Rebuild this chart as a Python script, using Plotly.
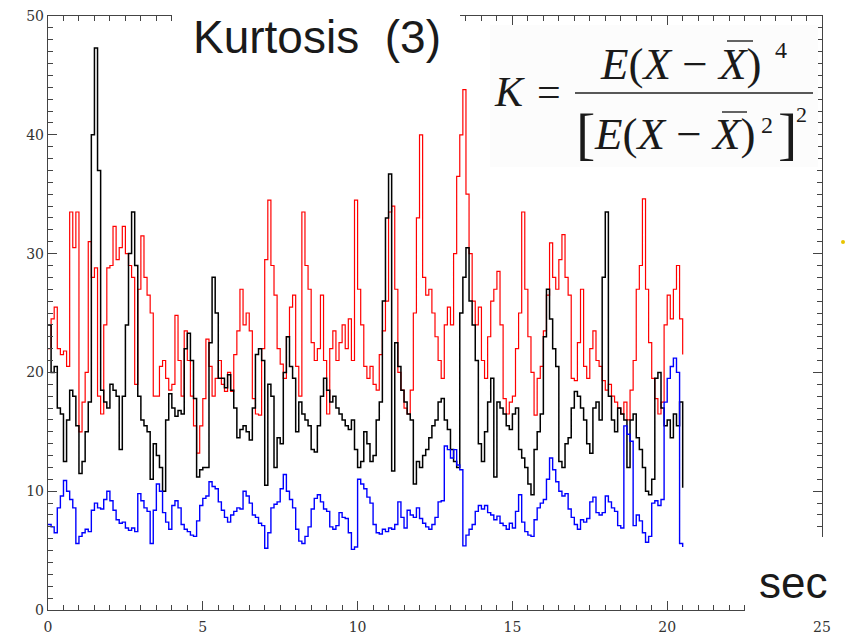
import numpy as np
import plotly.graph_objects as go

# Sampling interval of the three kurtosis traces (seconds)
STEP = 0.1

red = [
    22, 24.5, 25.5, 22, 21.5, 21.8, 20.5, 33.5, 30.5, 33.5,
    15, 17.5, 20, 31, 28, 28.8, 18, 16.5, 24, 28.8,
    29, 32.3, 29.5, 30.5, 32.3, 30, 29, 28, 19, 27,
    31.5, 28, 26.5, 25, 18, 18, 20.5, 21, 19.5, 18.5,
    19, 24.8, 21, 18, 23.5, 21, 18, 15.5, 13.2, 15.5,
    17.8, 22.8, 20.5, 18, 19.5, 21, 19, 18.4, 20, 18.4,
    21.5, 23.5, 27, 24, 25, 23.5, 17.8, 16.5, 16.4, 22,
    29.5, 34.5, 29, 26.5, 22, 20.7, 19.5, 23, 25.5, 26.5,
    20.5, 18, 33.5, 29, 27, 22.5, 21, 22, 26.5, 21,
    16.5, 22, 23.5, 21, 22.5, 24, 22, 24.5, 21, 34.5,
    27, 24, 20.5, 19.5, 20.5, 19, 18.5, 21.5, 23.5, 26,
    33.5, 34, 27, 20, 18.5, 17, 16.5, 18.5, 25, 33,
    40, 28, 26.5, 27, 25, 23, 21, 19.5, 24, 25.5,
    24, 30, 36.5, 40, 43.8, 35, 30, 26, 24, 25.5,
    21, 19.5, 23, 26, 27, 28.5, 24, 17.8, 16.5, 17.5,
    18, 22, 25, 33.5, 27, 23, 20, 16.4, 19.5, 20.5,
    23.5, 26.5, 30.9, 28, 27, 29.5, 31.6, 28, 26.5, 19.5,
    19.3, 22.5, 27, 20.5, 19.5, 22, 23.5, 21, 20.5, 19.3,
    18.5, 19, 18, 17.5, 17, 16.5, 17.5, 16, 18.5, 21,
    27, 29, 34.6, 27, 22.5, 19.5, 17.8, 16.5, 17.5, 24,
    26.5, 24.5, 27, 29, 24.5, 21.5,
]

black = [
    24, 20, 20.5, 17, 16.5, 12.5, 16, 18.5, 18, 15.5,
    11.5, 12.5, 15, 17.5, 40, 47.3, 37, 18.5, 17.5, 17,
    19, 18.5, 18, 13.5, 18, 24, 30, 33.5, 29, 18,
    16, 15.5, 15, 11, 14, 13, 12, 10, 16, 18.2,
    17, 16.3, 16.8, 16.5, 22, 23.3, 21, 17.8, 11.2, 11.8,
    12, 12, 22.5, 28, 25, 19.5, 19.5, 18.7, 19.8, 18.5,
    17, 14.5, 15.2, 15.5, 15, 14.3, 17, 21.5, 22, 21,
    10.5, 19, 18, 12, 14.5, 14, 20, 23, 20.5, 19.5,
    15, 17.5, 16.5, 16, 15.5, 13.5, 13.3, 15.5, 18, 19.5,
    18.5, 17.5, 18, 17, 16.5, 16, 15.5, 15.2, 16, 13.5,
    12, 12.5, 15, 14, 12.5, 13, 16, 17.5, 26, 33,
    36.7, 11.7, 22.5, 20.5, 18.5, 17.5, 16.5, 16, 10.6, 12.5,
    12, 13, 13.5, 14.5, 15.5, 16, 17.5, 17.8, 16, 15.2,
    13.5, 12.5, 12, 25, 28, 30.5, 26, 24, 21, 14,
    12.5, 15, 17.5, 19.5, 11.2, 17.5, 17, 16.5, 15.5, 15.2,
    16.5, 17, 13.5, 12.8, 12, 10.6, 9.7, 13.5, 15, 16.5,
    23, 27, 24.5, 22, 20.5, 12.5, 12, 14, 14.5, 17,
    18.4, 18, 17, 16, 14, 13.2, 17, 17.5, 16, 28,
    33.5, 18, 16, 15, 17, 16.5, 16, 12, 16, 16.5,
    14.5, 13.5, 12, 10, 9.7, 11, 19.5, 20, 17, 15.5,
    16, 14.5, 16.5, 15.5, 17.5, 10.3,
]

blue = [
    7.2, 7.0, 6.5, 8.6, 9.6, 10.9, 10, 9.3, 8.6, 5.6,
    6.2, 6.5, 6.8, 6.6, 8.4, 9, 8.6, 8.5, 9.3, 10,
    9.2, 8.4, 7.6, 7.3, 7.4, 6.9, 6.7, 6.9, 6.6, 9.8,
    9.2, 8.6, 8.3, 5.6, 8.4, 10.6, 10, 8.2, 7.4, 6.8,
    8.8, 9.2, 8.6, 7.2, 6.8, 6.6, 6.3, 6.2, 7.5, 8.8,
    9.4, 9.6, 10.8, 10.4, 10.2, 9.1, 8.4, 7.8, 7.4, 8,
    8.3, 8.6, 8.5, 10, 9.6, 9, 8, 7.8, 7.3, 7.1,
    5.2, 6.5, 8.6, 8.9, 9.1, 10.2, 11.4, 10, 9.3, 8.6,
    6.8, 5.8, 5.6, 6.2, 7, 8.5, 9.4, 9.7, 9.1, 8.5,
    8.3, 7, 6.8, 7.1, 8.2, 7.8, 7.7, 6.5, 5.1, 5.3,
    11, 10.6, 10.2, 9.5, 9, 7.2, 6.5, 6.4, 6.8, 6.6,
    6.9, 6.8, 7.2, 9.1, 7.8, 6.9, 8.4, 8, 7.8, 8.6,
    7.7, 7.3, 7, 6.8, 7.2, 7.8, 9.1, 9.2, 13.8, 13.5,
    12.8, 13.5, 12.2, 11.8, 5.4, 6.3, 6.8, 7.2, 8.3, 8.8,
    8.5, 8.8, 8.2, 8, 7.6, 7.9, 7.3, 7.1, 6.8, 7.3,
    6.9, 8.3, 9.7, 7.4, 6.6, 6.3, 6.2, 7.6, 8.6, 9,
    9.3, 11, 12.8, 11.8, 10.8, 10, 9.6, 9.8, 8.5, 7.8,
    7.2, 6.8, 7.6, 7.4, 7.7, 9.1, 9.5, 8.2, 8, 8.2,
    9.6, 9.1, 8.6, 8.3, 7.1, 6.9, 15.5, 14.8, 14.2, 7.1,
    8, 7.5, 6.5, 5.7, 6.2, 9, 9.2, 8.8, 9.3, 17.5,
    19.5, 20.5, 21.2, 20, 5.6, 5.3,
]

time = np.round(np.arange(len(red)) * STEP, 2)

X_RANGE = [0, 25]
Y_RANGE = [0, 50]

# Page geometry (pixels) and conversion helpers to paper coordinates
W, H = 846, 642
ML, MR, MT, MB = 48, 24, 16, 32
PW, PH = W - ML - MR, H - MT - MB


def px(x):
    return (x - ML) / PW


def py(y):
    return (H - MB - y) / PH


AXIS_COLOR = "#444444"
TICK_FONT = dict(family="DejaVu Serif", size=14, color="#333333")

fig = go.Figure()
for series, color, width in ((red, "#ff0000", 1.2),
                             (black, "#000000", 1.5),
                             (blue, "#0000ff", 1.4)):
    fig.add_trace(go.Scatter(
        x=time, y=series, mode="lines",
        line=dict(color=color, width=width, shape="hv"),
        showlegend=False, hoverinfo="skip",
    ))

# empty companion trace so the label-only overlay axes get drawn
fig.add_trace(go.Scatter(x=[], y=[], xaxis="x2", yaxis="y2",
                         showlegend=False, hoverinfo="skip"))

# Frame axes: inside major + minor ticks on all four sides, no labels
frame = dict(
    showgrid=False, zeroline=False, showline=True, linecolor=AXIS_COLOR,
    linewidth=1, ticks="inside", tickcolor=AXIS_COLOR, mirror="allticks",
    tickwidth=1, ticklen=9, showticklabels=False, automargin=False,
)
# Label axes: numbers only, overlaid on the frame axes
labels = dict(
    showgrid=False, zeroline=False, showline=False, ticks="",
    tickfont=TICK_FONT, automargin=False, fixedrange=True,
)

fig.update_layout(
    xaxis=dict(range=X_RANGE, tick0=0, dtick=5,
               minor=dict(dtick=0.5, ticks="inside", ticklen=5,
                          tickcolor=AXIS_COLOR, tickwidth=1), **frame),
    yaxis=dict(range=Y_RANGE, tick0=0, dtick=10,
               minor=dict(dtick=1, ticks="inside", ticklen=5,
                          tickcolor=AXIS_COLOR, tickwidth=1), **frame),
    xaxis2=dict(range=X_RANGE, tick0=0, dtick=5, overlaying="x", anchor="y",
                side="bottom", ticklabelstandoff=7, **labels),
    yaxis2=dict(range=Y_RANGE, tick0=0, dtick=10, overlaying="y", anchor="x",
                side="left", ticklabelstandoff=3, **labels),
)

shapes = [
    # white panel behind the heading
    dict(type="rect", x0=px(172), x1=px(460), y0=py(70), y1=py(0),
         fillcolor="white", line=dict(width=0)),
    # faint panel behind the formula
    dict(type="rect", x0=px(490), x1=px(818), y0=py(167), y1=py(25),
         fillcolor="#fcfcfc", line=dict(width=0)),
    # white panel behind the unit label
    dict(type="rect", x0=px(745), x1=px(846), y0=py(618), y1=py(537),
         fillcolor="white", line=dict(width=0)),
    # fraction bar
    dict(type="line", x0=px(575), x1=px(813), y0=py(93), y1=py(93),
         line=dict(color="#222222", width=1.6)),
    # mean bars over X
    dict(type="line", x0=px(727), x1=px(753), y0=py(41), y1=py(41),
         line=dict(color="#222222", width=1.4)),
    dict(type="line", x0=px(722), x1=px(747), y0=py(112), y1=py(112),
         line=dict(color="#222222", width=1.4)),
    # small yellow dot at the right margin
    dict(type="circle", x0=px(841), x1=px(845), y0=py(244), y1=py(240),
         fillcolor="#e8c400", line=dict(width=0)),
]
for s in shapes:
    s.update(xref="paper", yref="paper", layer="above")
fig.update_layout(shapes=shapes)

SERIF = "Liberation Serif"
INK = "#1a1a1a"


def note(text, x, y, size, family=SERIF, xanchor="center"):
    fig.add_annotation(
        text=text, x=px(x), y=py(y), xref="paper", yref="paper",
        xanchor=xanchor, yanchor="middle", showarrow=False,
        font=dict(family=family, size=size, color=INK),
    )


note("Kurtosis\u00a0\u00a0(3)", 317, 37, 46, family="Liberation Sans")
note("sec", 793, 582, 44, family="Liberation Sans")

note("<i>K</i>", 510, 92, 42)
note("=", 549, 92, 42)
note("<i>E</i>(<i>X</i>\u00a0\u2212\u00a0<i>X</i>)", 598, 64, 45, xanchor="left")
note("4", 781, 50, 24)
note("[", 585, 133, 58)
note("<i>E</i>(<i>X</i>\u00a0\u2212\u00a0<i>X</i>)", 592, 134, 45, xanchor="left")
note("2", 767, 125, 24)
note("]", 787, 133, 58)
note("2", 801, 114, 22)

fig.update_layout(
    width=W, height=H,
    margin=dict(l=ML, r=MR, t=MT, b=MB, pad=0),
    plot_bgcolor="white", paper_bgcolor="white",
    showlegend=False,
)

fig.write_html("out.html")
